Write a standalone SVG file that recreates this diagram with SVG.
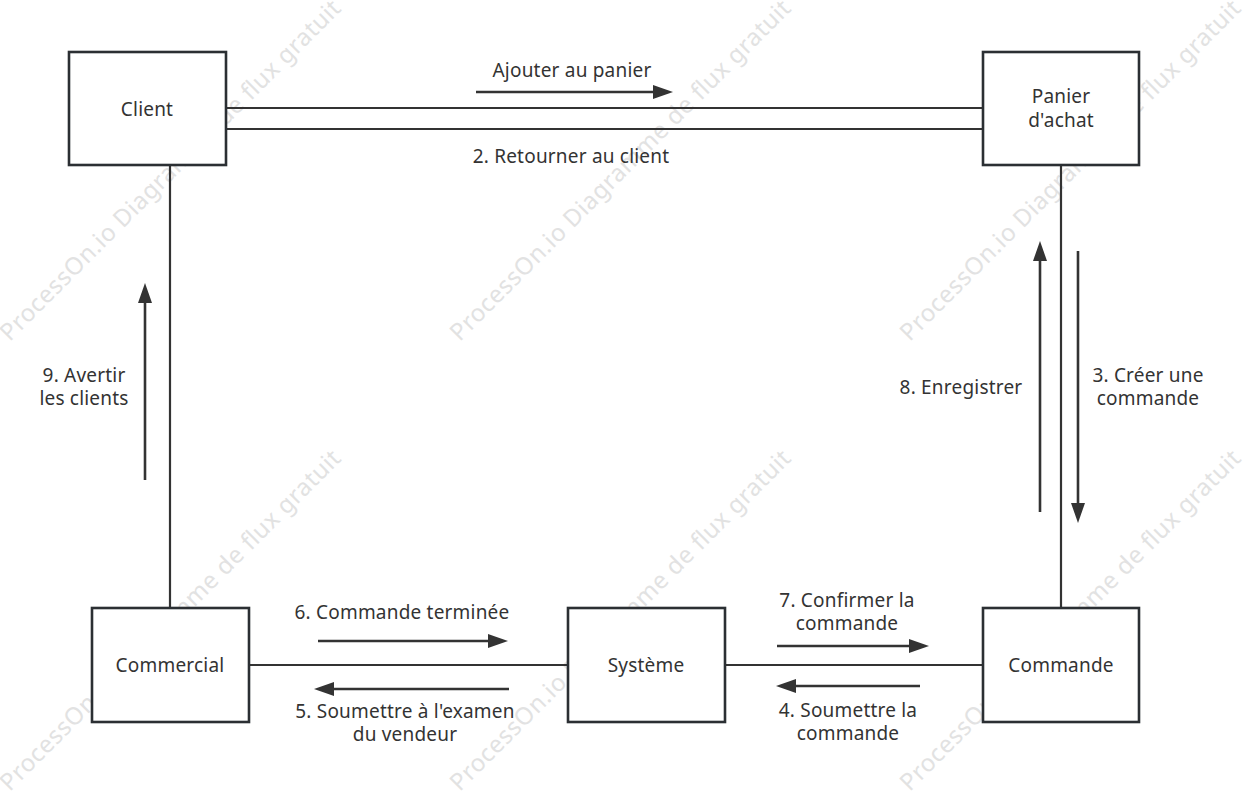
<svg xmlns="http://www.w3.org/2000/svg" width="1249" height="791" viewBox="0 0 1249 791">
<style>
.wm{font-family:"Noto Sans","Open Sans",sans-serif;font-size:24px;fill:#e2e2e2;}
.box{fill:#ffffff;stroke:#2b2f33;stroke-width:2.6;}
.lbl{font-family:"Noto Sans","Open Sans",sans-serif;font-size:19px;fill:#333333;text-anchor:middle;letter-spacing:0.2px;}
.con{stroke:#333333;stroke-width:2.2;fill:none;}
.arr{stroke:#333333;stroke-width:2.6;fill:none;marker-end:url(#ah);}
</style>
<defs>
<marker id="ah" markerUnits="userSpaceOnUse" markerWidth="20" markerHeight="14" refX="10" refY="7" orient="auto">
<path d="M0,0 L20,7 L0,14 Z" fill="#333333"/>
</marker>
</defs>
<rect width="1249" height="791" fill="#ffffff"/>
<g id="watermark">
<text class="wm" text-anchor="middle" textLength="470" lengthAdjust="spacing" transform="translate(176,176) rotate(-45)">ProcessOn.io Diagramme de flux gratuit</text>
<text class="wm" text-anchor="middle" textLength="470" lengthAdjust="spacing" transform="translate(626,176) rotate(-45)">ProcessOn.io Diagramme de flux gratuit</text>
<text class="wm" text-anchor="middle" textLength="470" lengthAdjust="spacing" transform="translate(1076,176) rotate(-45)">ProcessOn.io Diagramme de flux gratuit</text>
<text class="wm" text-anchor="middle" textLength="470" lengthAdjust="spacing" transform="translate(176,626) rotate(-45)">ProcessOn.io Diagramme de flux gratuit</text>
<text class="wm" text-anchor="middle" textLength="470" lengthAdjust="spacing" transform="translate(626,626) rotate(-45)">ProcessOn.io Diagramme de flux gratuit</text>
<text class="wm" text-anchor="middle" textLength="470" lengthAdjust="spacing" transform="translate(1076,626) rotate(-45)">ProcessOn.io Diagramme de flux gratuit</text>
</g>
<g id="connectors">
<line class="con" x1="226" y1="108" x2="983" y2="108"/>
<line class="con" x1="226" y1="129" x2="983" y2="129"/>
<line class="con" x1="170" y1="165" x2="170" y2="607"/>
<line class="con" x1="1061" y1="165" x2="1061" y2="608"/>
<line class="con" x1="249" y1="665" x2="568" y2="665"/>
<line class="con" x1="725" y1="665" x2="983" y2="665"/>
<line class="arr" x1="476" y1="92" x2="663" y2="92"/>
<line class="arr" x1="318" y1="641" x2="498" y2="641"/>
<line class="arr" x1="509" y1="689" x2="324" y2="689"/>
<line class="arr" x1="777" y1="646" x2="919" y2="646"/>
<line class="arr" x1="920" y1="686" x2="786" y2="686"/>
<line class="arr" x1="145" y1="480" x2="145" y2="293"/>
<line class="arr" x1="1040" y1="512" x2="1040" y2="251"/>
<line class="arr" x1="1078" y1="251" x2="1078" y2="513"/>
<text class="lbl" x="572" y="77">Ajouter au panier</text>
<text class="lbl" x="571" y="163">2. Retourner au client</text>
<text class="lbl" x="1148" y="382">3. Créer une<tspan x="1148" dy="23">commande</tspan></text>
<text class="lbl" x="961" y="394">8. Enregistrer</text>
<text class="lbl" x="84" y="382">9. Avertir<tspan x="84" dy="23">les clients</tspan></text>
<text class="lbl" x="402" y="619">6. Commande terminée</text>
<text class="lbl" x="405" y="718">5. Soumettre à l'examen<tspan x="405" dy="23">du vendeur</tspan></text>
<text class="lbl" x="847" y="607">7. Confirmer la<tspan x="847" dy="23">commande</tspan></text>
<text class="lbl" x="848" y="717">4. Soumettre la<tspan x="848" dy="23">commande</tspan></text>
</g>
<g id="client">
<rect class="box" x="69" y="52" width="157" height="113"/>
<text class="lbl" x="147" y="116">Client</text>
</g>
<g id="panier">
<rect class="box" x="983" y="52" width="156" height="113"/>
<text class="lbl" x="1061" y="103">Panier<tspan x="1061" dy="24">d'achat</tspan></text>
</g>
<g id="commercial">
<rect class="box" x="92" y="608" width="157" height="114"/>
<text class="lbl" x="170" y="672">Commercial</text>
</g>
<g id="systeme">
<rect class="box" x="568" y="608" width="157" height="114"/>
<text class="lbl" x="646" y="672">Système</text>
</g>
<g id="commande">
<rect class="box" x="983" y="608" width="156" height="114"/>
<text class="lbl" x="1061" y="672">Commande</text>
</g>
</svg>
